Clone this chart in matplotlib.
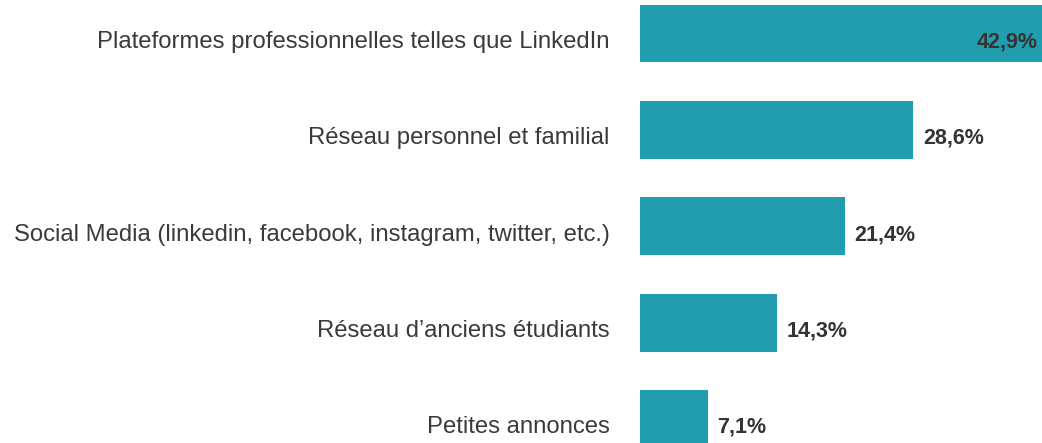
import matplotlib.pyplot as plt

plt.rcParams['font.family'] = ['Liberation Sans', 'DejaVu Sans']

categories = [
    "Plateformes professionnelles telles que LinkedIn",
    "Réseau personnel et familial",
    "Social Media (linkedin, facebook, instagram, twitter, etc.)",
    "Réseau d’anciens étudiants",
    "Petites annonces",
]
values = [42.9, 28.6, 21.4, 14.3, 7.1]
value_labels = ["42,9%", "28,6%", "21,4%", "14,3%", "7,1%"]

BAR_COLOR = "#229DAD"
TEXT_COLOR = "#333333"
LABEL_COLOR = "#3a3a3a"

fig = plt.figure(figsize=(10.42, 4.43), dpi=100)
ax = fig.add_axes([640 / 1042, 0, 402 / 1042, 1])

positions = list(range(len(categories)))
ax.barh(positions, values, height=0.6, color=BAR_COLOR, edgecolor="none")

ax.set_xlim(0, 42.05)
ax.set_ylim(4.248, -0.347)
ax.axis("off")

for pos, cat, val, lab in zip(positions, categories, values, value_labels):
    ax.annotate(cat, xy=(0, pos), xytext=(-22, -6), textcoords="offset points",
                ha="right", va="center", fontsize=17.2, color=LABEL_COLOR,
                annotation_clip=False)
    if val > 40:
        ax.annotate(lab, xy=(42.05, pos), xytext=(-3.5, -6), textcoords="offset points",
                    ha="right", va="center", fontsize=15.5, fontweight="bold",
                    color=TEXT_COLOR, annotation_clip=False)
    else:
        ax.annotate(lab, xy=(val, pos), xytext=(7, -6), textcoords="offset points",
                    ha="left", va="center", fontsize=15.5, fontweight="bold",
                    color=TEXT_COLOR, annotation_clip=False)

fig.savefig("out.png", dpi=100, facecolor="white")
